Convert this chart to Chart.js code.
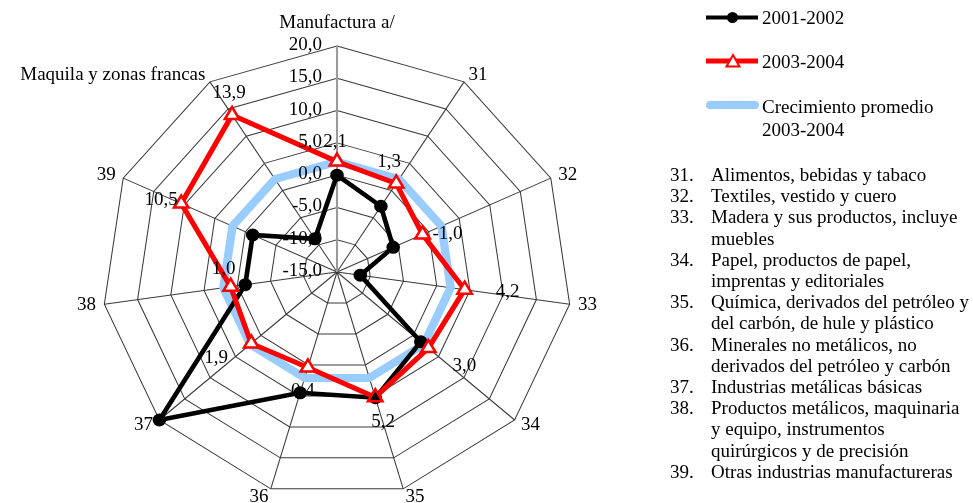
<!DOCTYPE html>
<html>
<head>
<meta charset="utf-8">
<script src="https://cdn.jsdelivr.net/npm/chart.js@4/dist/chart.umd.min.js"></script>
<style>
html,body{margin:0;padding:0;background:#fff;}
#wrap{position:relative;width:973px;height:503px;overflow:hidden;background:#fff;font-family:"Liberation Serif","Times New Roman",serif;color:#000;}
#c{position:absolute;left:0;top:0;}
.lg{position:absolute;left:762px;font-size:19px;line-height:22.5px;white-space:nowrap;}
.list{position:absolute;left:670px;top:164px;font-size:19px;line-height:21.2px;white-space:nowrap;}
.list .row{display:flex;}
.list .n{width:41px;flex:none;}
</style>
</head>
<body>
<div id="wrap">
<canvas id="c" width="973" height="503"></canvas>
<svg style="position:absolute;left:0;top:0" width="973" height="503">
  <line x1="706" y1="17.5" x2="758" y2="17.5" stroke="#000" stroke-width="4"/>
  <circle cx="732.5" cy="17.5" r="5.5" fill="#000"/>
  <line x1="706" y1="61" x2="758" y2="61" stroke="#ff0000" stroke-width="5"/>
  <polygon points="733,55 739.5,66.5 726.5,66.5" fill="#fff" stroke="#ff0000" stroke-width="2"/>
  <line x1="710" y1="105" x2="755" y2="105" stroke="#99CCFF" stroke-width="8" stroke-linecap="round"/>
</svg>
<div class="lg" style="top:7px">2001-2002</div>
<div class="lg" style="top:51px">2003-2004</div>
<div class="lg" style="top:96px">Crecimiento promedio<br>2003-2004</div>
<div class="list">
  <div class="row"><span class="n">31.</span><span>Alimentos, bebidas y tabaco</span></div>
  <div class="row"><span class="n">32.</span><span>Textiles, vestido y cuero</span></div>
  <div class="row"><span class="n">33.</span><span>Madera y sus productos, incluye<br>muebles</span></div>
  <div class="row"><span class="n">34.</span><span>Papel, productos de papel,<br>imprentas y editoriales</span></div>
  <div class="row"><span class="n">35.</span><span>Química, derivados del petróleo y<br>del carbón, de hule y plástico</span></div>
  <div class="row"><span class="n">36.</span><span>Minerales no metálicos, no<br>derivados del petróleo y carbón</span></div>
  <div class="row"><span class="n">37.</span><span>Industrias metálicas básicas</span></div>
  <div class="row"><span class="n">38.</span><span>Productos metálicos, maquinaria<br>y equipo, instrumentos<br>quirúrgicos y de precisión</span></div>
  <div class="row"><span class="n">39.</span><span>Otras industrias manufactureras</span></div>
</div>
</div>
<script>
// ---- data ----
const categories = ['Manufactura a/', '31', '32', '33', '34', '35', '36', '37', '38', '39', 'Maquila y zonas francas'];
const serie2001_2002 = [0.0, -2.9, -5.8, -11.5, 1.5, 5.3, 4.5, 20.0, -1.2, -1.2, -8.9];
const serie2003_2004 = [2.1, 1.3, -1.0, 4.2, 3.0, 5.2, 0.4, 1.9, 1.0, 10.5, 13.9];
const crecimientoPromedio = [2.1, 2.1, 2.1, 2.1, 2.1, 2.1, 2.1, 2.1, 2.1, 2.1, 2.1];
const scaleMin = -15, scaleMax = 20, scaleStep = 5;

// ---- presentation ----
const STRETCH = 1.04;
const FONT = '19px "Liberation Serif", "Times New Roman", serif';
const labelOffsets = [[-2,-20],[-7,-21],[25,0],[43,2],[36,18],[8,25],[-5,24],[-35,15],[-7,-18],[-20,-4],[-3,-22]];
const fmt = v => v.toFixed(1).replace('.', ',');

const drawPlugin = {
  id: 'excelLook',
  beforeDraw(chart) {
    const r = chart.scales.r, ctx = chart.ctx;
    ctx.save();
    ctx.translate(r.xCenter, 0);
    ctx.scale(STRETCH, 1);
    ctx.translate(-r.xCenter, 0);
  },
  afterDatasetsDraw(chart) {
    chart.ctx.restore();
  },
  afterDraw(chart) {
    const r = chart.scales.r, ctx = chart.ctx;
    const tx = x => r.xCenter + (x - r.xCenter) * STRETCH;
    ctx.save();
    ctx.font = FONT;
    ctx.fillStyle = '#000';
    // axis (point) labels
    const n = categories.length;
    categories.forEach((lab, i) => {
      const p = r.getPointPosition(i, r.drawingArea + 8);
      const sn = Math.sin(i * 2 * Math.PI / n);
      ctx.textAlign = Math.abs(sn) < 0.01 ? 'center' : (sn > 0 ? 'left' : 'right');
      ctx.textBaseline = 'middle';
      let y = p.y;
      if (i === 0) y = r.yCenter - r.drawingArea - 23;
      ctx.fillText(lab, tx(p.x), y);
    });
    // tick labels
    ctx.textAlign = 'right';
    ctx.textBaseline = 'middle';
    r.ticks.forEach(t => {
      const y = r.yCenter - r.getDistanceFromCenterForValue(t.value);
      ctx.fillText(fmt(t.value), r.xCenter - 15, y - 1);
    });
    // data labels of 2003-2004
    const meta = chart.getDatasetMeta(1);
    ctx.textAlign = 'center';
    meta.data.forEach((pt, i) => {
      const o = labelOffsets[i];
      ctx.fillText(fmt(serie2003_2004[i]), tx(pt.x) + o[0], pt.y + o[1]);
    });
    ctx.restore();
  }
};

new Chart(document.getElementById('c'), {
  type: 'radar',
  data: {
    labels: categories,
    datasets: [
      {
        label: '2001-2002',
        data: serie2001_2002,
        borderColor: '#000000',
        backgroundColor: '#000000',
        borderWidth: 4.5,
        fill: false,
        pointStyle: 'circle',
        pointRadius: 6.5,
        pointBorderWidth: 0,
        pointBackgroundColor: '#000000',
        order: 1,
        clip: false
      },
      {
        label: '2003-2004',
        data: serie2003_2004,
        borderColor: '#ff0000',
        backgroundColor: '#ff0000',
        borderWidth: 5,
        fill: false,
        segment: { borderWidth: c => (c.p0DataIndex === 0 ? 2.5 : 5) },
        pointStyle: 'triangle',
        pointRadius: 8,
        pointBorderWidth: 2.5,
        pointBorderColor: '#ff0000',
        pointBackgroundColor: serie2003_2004.map((v, i) => (i === 5 ? '#000000' : '#ffffff')),
        order: 0,
        clip: false
      },
      {
        label: 'Crecimiento promedio 2003-2004',
        data: crecimientoPromedio,
        borderColor: '#99CCFF',
        backgroundColor: '#99CCFF',
        borderWidth: 8,
        borderJoinStyle: 'round',
        fill: false,
        pointRadius: 0,
        order: 2,
        clip: false
      }
    ]
  },
  options: {
    responsive: false,
    animation: false,
    devicePixelRatio: 1,
    layout: { padding: { left: 111, right: 410, top: 46, bottom: 5 } },
    elements: { line: { tension: 0 } },
    plugins: { legend: { display: false }, tooltip: { enabled: false } },
    scales: {
      r: {
        min: scaleMin,
        max: scaleMax,
        beginAtZero: false,
        ticks: { display: false, stepSize: scaleStep },
        pointLabels: { display: false },
        grid: { circular: false, color: '#3a3a3a', lineWidth: 1 },
        angleLines: {
          color: c => (c.index === 0 ? '#9a9a9a' : '#3a3a3a'),
          lineWidth: c => (c.index === 0 ? 2 : 1)
        }
      }
    }
  },
  plugins: [drawPlugin]
});
</script>
</body>
</html>
